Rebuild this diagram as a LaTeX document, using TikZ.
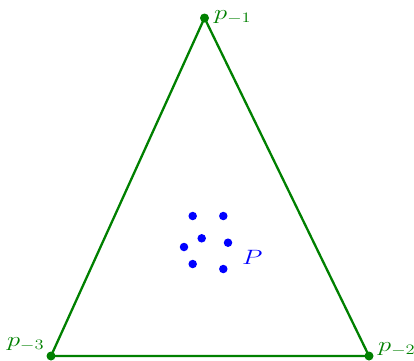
\documentclass[tikz,border=0pt]{standalone}
\definecolor{tgreen}{RGB}{0,128,0}
\tikzset{
  vdot/.style={circle,fill=tgreen,inner sep=0pt,minimum size=9pt},
  bdot/.style={circle,fill=blue,inner sep=0pt,minimum size=8.5pt},
  glabel/.style={text=tgreen,inner sep=0pt,anchor=base west,font=\fontsize{21}{25}\selectfont},
  blabel/.style={text=blue,inner sep=0pt,anchor=base west,font=\fontsize{21}{25}\selectfont},
  edge/.style={draw=tgreen,line width=2.3pt}
}
\begin{document}
\begin{tikzpicture}[x=1pt,y=-1pt]
\useasboundingbox (0,0) rectangle (414,360);
\coordinate (v1) at (204.5,18);
\coordinate (v2) at (369,356);
\coordinate (v3) at (51,356);
\draw[edge,line join=round] (v1) -- (v2) -- (v3) -- cycle;
\node[vdot] (d1) at (v1) {};
\node[vdot] (d2) at (v2) {};
\node[vdot] (d3) at (v3) {};
\node[glabel] (l1) at (214,19) {\scalebox{1.28}[1]{$p_{-1}$}};
\node[glabel] (l2) at (378,351) {\scalebox{1.28}[1]{$p_{-2}$}};
\node[glabel] (l3) at (7,346) {\scalebox{1.28}[1]{$p_{-3}$}};
\node[bdot] (b1) at (192.7,216) {};
\node[bdot] (b2) at (223.3,216) {};
\node[bdot] (b3) at (201.7,238.3) {};
\node[bdot] (b4) at (184,247) {};
\node[bdot] (b5) at (228,242.7) {};
\node[bdot] (b6) at (192.7,264) {};
\node[bdot] (b7) at (223.3,269) {};
\node[blabel] (lp) at (242,264) {\scalebox{1.28}[1]{$P$}};
\end{tikzpicture}
\end{document}
